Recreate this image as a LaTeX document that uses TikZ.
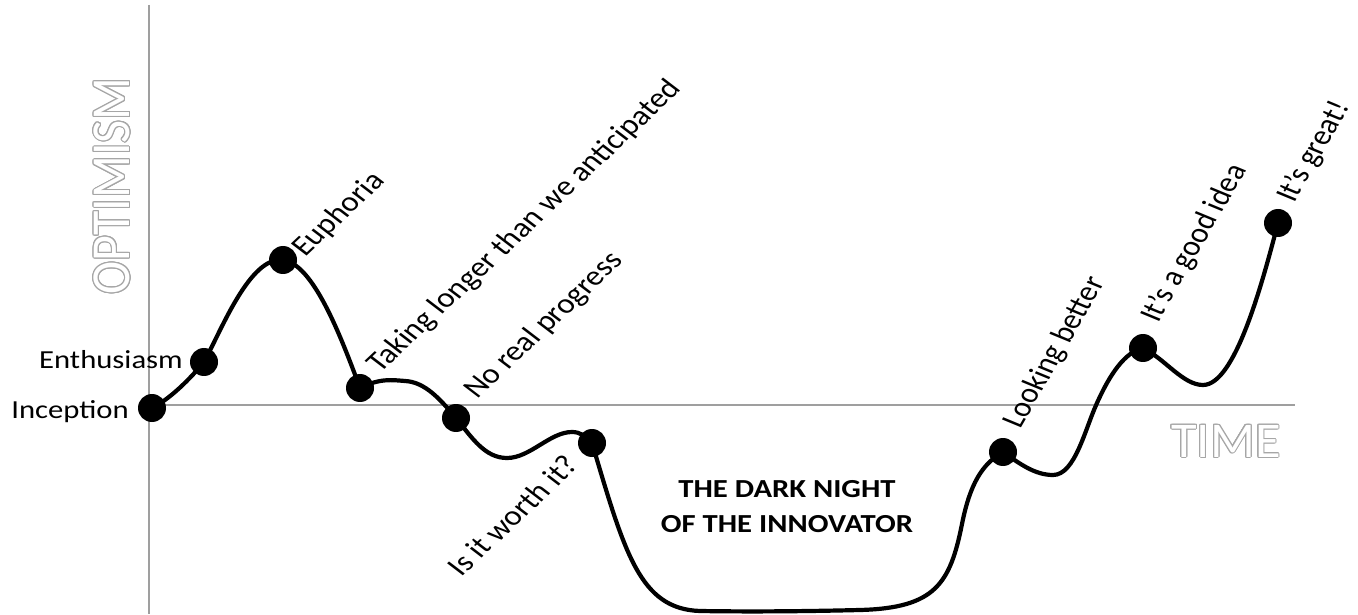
\documentclass[tikz,border=0pt]{standalone}
\usepackage{fontspec}
\setmainfont{Carlito}
\tikzset{
  dot/.style={circle, fill=black, inner sep=0pt, minimum size=28pt},
  curve/.style={line width=4.2pt, line cap=round, line join=round},
  axis/.style={draw=gray!75, line width=1.3pt},
  lbl/.style={inner sep=0pt, font=\fontsize{26}{30}\selectfont},
  rlbl/.style={inner sep=0pt, font=\fontsize{28}{30}\selectfont},
  lblL/.style={rlbl, anchor=base west, xscale=1.18, rotate=48},
  lblR/.style={rlbl, anchor=base west, xscale=1.18, rotate=64},
  dark/.style={inner sep=0pt, anchor=base, xscale=1.18, font=\fontsize{26}{30}\selectfont\bfseries},
  axlbl/.style={inner sep=0pt, font=\fontsize{50}{50}\selectfont}
}
\newcommand{\outlinetext}[4]{%
  \foreach \a in {0,20,...,340}{\node[axlbl,#3,text=gray!70] at ([shift={(\a:1pt)}]#2) {#4};}
  \node[axlbl,#3,text=white] (#1) at (#2) {#4};}
\begin{document}
\begin{tikzpicture}[x=1pt,y=1pt]
\useasboundingbox (0,0) rectangle (1358,614);
\fill[white] (0,0) rectangle (1358,614);
% axes
\coordinate (ytop) at (149,609);
\coordinate (ybot) at (149,0);
\coordinate (xl) at (149,209);
\coordinate (xr) at (1295,209);
\draw[axis] (ytop) -- (ybot);
\draw[axis] (xl) -- (xr);
\outlinetext{opt}{112,428}{xscale=1.1,rotate=90}{OPTIMISM}
\outlinetext{time}{1226,173}{xscale=1.05}{TIME}
% dots
\node[dot] (inc) at (152,206) {};
\node[dot] (ent) at (204,252) {};
\node[dot] (eup) at (283,354) {};
\node[dot] (take) at (360,226) {};
\node[dot] (nrp) at (456,196) {};
\node[dot] (worth) at (592,171) {};
\node[dot] (lb) at (1003,162) {};
\node[dot] (gi) at (1143,266) {};
\node[dot] (great) at (1278,391) {};
% helper points of the curve
\coordinate (bump) at (405,233);
\coordinate (min1) at (507,156);
\coordinate (crest) at (572,182);
\coordinate (bl) at (700,3);
\coordinate (br) at (860,4);
\coordinate (rise) at (962,90);
\coordinate (min2) at (1053,139);
\coordinate (infl) at (1097,211);
\coordinate (min3) at (1203,229);
\draw[curve] (inc.center) .. controls (170,215) and (190,235) .. (ent.center)
  .. controls (222,285) and (250,358) .. (eup.center)
  .. controls (313,350) and (340,280) .. (take.center)
  .. controls (380,236) and (392,234) .. (bump)
  .. controls (425,232) and (440,215) .. (nrp.center)
  .. controls (472,176) and (485,156) .. (min1)
  .. controls (530,156) and (550,182) .. (crest)
  .. controls (580,182) and (586,178) .. (worth.center)
  .. controls (625,60) and (640,5) .. (bl)
  .. controls (760,2) and (820,3) .. (br)
  .. controls (935,6) and (950,30) .. (rise)
  .. controls (970,130) and (982,150) .. (lb.center)
  .. controls (1020,150) and (1035,139) .. (min2)
  .. controls (1075,139) and (1085,185) .. (infl)
  .. controls (1110,240) and (1125,262) .. (gi.center)
  .. controls (1165,255) and (1183,229) .. (min3)
  .. controls (1235,229) and (1262,330) .. (great.center);
% labels
\node[lbl, anchor=base east, xscale=1.18] (tinc) at (129,196) {Inception};
\node[lbl, anchor=base east, xscale=1.18] (tent) at (183,245) {Enthusiasm};
\node[lblL] (teup) at (305,356) {Euphoria};
\node[lblL] (ttake) at (380,240) {Taking longer than we anticipated};
\node[lblL] (tnrp) at (477,214) {No real progress};
\node[rlbl, anchor=base east, xscale=1.18, rotate=48] (tworth) at (580,148) {Is it worth it?};
\node[lblR] (tlb) at (1020,184) {Looking better};
\node[lblR] (tgi) at (1158,290) {It’s a good idea};
\node[lblR] (tgreat) at (1294,410) {It’s great!};
\node[dark] (dark1) at (787,117) {THE DARK NIGHT};
\node[dark] (dark2) at (787,82) {OF THE INNOVATOR};
\end{tikzpicture}
\end{document}
